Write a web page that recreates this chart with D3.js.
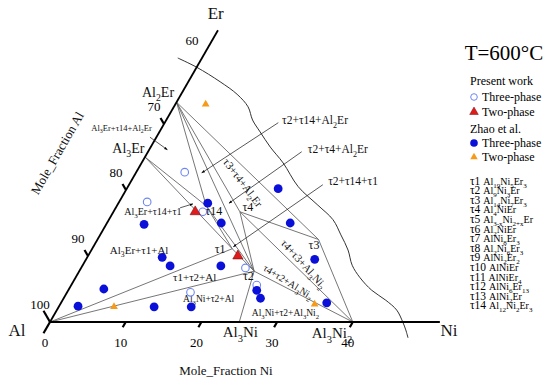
<!DOCTYPE html>
<html lang="en">
<head>
<meta charset="UTF-8">
<title>Al-Ni-Er isothermal section, 600 C</title>
<script src="https://d3js.org/d3.v7.min.js"></script>
<style>
  body { margin: 0; background: #fff; }
  svg { display: block; font-family: "Liberation Serif", "Times New Roman", serif; }
</style>
</head>
<body>
<svg width="550" height="386"></svg>
<script>
// all compositions in at.% as [Ni, Er]
const phaseNames = ["Al", "Al3Ni", "Al3Ni2", "Al3Er", "Al2Er", "t1", "t2", "t3", "t4", "t14"];
const phaseNi = [0, 25, 40, 0, 0, 18.5, 23.1, 29.2, 16.7, 11.8];
const phaseEr = [0, 0, 0, 25, 33.3, 11.1, 7.7, 12.5, 16.7, 17.6];

const tieLines = [
    ["Al", "t1"], ["Al", "t2"], ["Al3Er", "t1"], ["Al3Er", "t14"],
    ["Al2Er", "t14"], ["Al2Er", "t2"], ["Al2Er", "t4"], ["Al2Er", "t3"],
    ["t14", "t1"], ["t14", "t2"], ["t1", "t2"], ["Al3Ni", "t2"],
    ["t2", "Al3Ni2"], ["t4", "t2"], ["t4", "Al3Ni2"], ["t4", "t3"], ["t3", "Al3Ni2"]
];

// liquid / phase region boundary
const boundaryNi = [-3.2, 0, 4.2, 7.4, 9.8, 11.4, 13.3, 15.8, 18.7, 22.5, 26.5, 29.6, 31.8, 33.9, 35.6, 37.6, 40.1, 42.7, 44.9, 46.6, 47.6, 48.5];
const boundaryEr = [40, 38.6, 36.4, 34.5, 32.6, 30.6, 28.8, 26.5, 24.1, 20.5, 17.7, 15.5, 13.2, 10.9, 8.6, 6.7, 4.8, 3.3, 1.8, 0, -1.2, -2.4];

// present work
const presentThreeNi = [6.4, 3.7, 11.8, 21.7, 24.5, 16.3];
const presentThreeEr = [22.7, 18.2, 16.7, 8.2, 5.6, 4.5];
const presentTwoNi = [10.8, 19.8];
const presentTwoEr = [16.7, 10.0];
// Zhao et al.
const zhaoThreeNi = [11.8, 5.0, 15.1, 9.9, 11.6, 18.3, 4.6, 2.5, 12.6, 17.5, 24.9, 26.0, 35.1, 30.2, 24.2, 20.0];
const zhaoThreeEr = [18.0, 14.8, 15.0, 9.8, 8.5, 8.5, 5.0, 2.4, 2.3, 2.3, 4.8, 3.6, 2.9, 9.5, 15.0, 20.2];
const zhaoTwoNi = [4.0, 7.3, 33.6];
const zhaoTwoEr = [33.0, 2.3, 2.7];

// axes
const niTicks = [0, 10, 20, 30, 40];
const alTicks = [100, 90, 80, 70];
const alLabels = [100, 90, 80, 70, 60];

const tauNames = ["τ1", "τ2", "τ3", "τ4", "τ5", "τ6", "τ7", "τ8", "τ9", "τ10", "τ11", "τ12", "τ13", "τ14"];
const tauFormulas = ["Al{19}Ni{5}Er{3}", "Al{9}Ni{3}Er", "Al{14}Ni{7}Er{3}", "Al{4}NiEr", "Al{3-x}Ni{2+x}Er",
    "Al{2}NiEr", "AlNi{8}Er{3}", "Al{2}Ni{6}Er{3}", "AlNi{2}Er{2}", "AlNiEr", "AlNiEr{4}",
    "AlNi{6}Er{13}", "AlNi{2}Er", "Al{12}Ni{2}Er{3}"];

const svg = d3.select("svg");

// ternary -> screen
const nScale = d3.scaleLinear().domain([0, 40]).range([0, 302.8]);
const eXScale = d3.scaleLinear().domain([0, 40]).range([0, 152]);
const eYScale = d3.scaleLinear().domain([0, 40]).range([322, 58]);
const X0 = 50;
function proj(n, e) { return [X0 + nScale(n) + eXScale(e), eYScale(e)]; }

const phasePos = {};
phaseNames.forEach((p, i) => phasePos[p] = proj(phaseNi[i], phaseEr[i]));

// text with {subscripts}
function richText(sel, str, fs) {
    const parts = str.split(/(\{[^}]*\})/).filter(p => p.length);
    let sub = false;
    parts.forEach(p => {
        if (p[0] === "{") {
            sel.append("tspan").attr("font-size", fs * 0.7).attr("dy", fs * 0.3).text(p.slice(1, -1));
            sub = true;
        } else {
            const t = sel.append("tspan").text(p);
            if (sub) { t.attr("dy", -fs * 0.3); sub = false; }
        }
    });
    return sel;
}

function label(str, n, e, fs, anchor, rot) {
    const p = proj(n, e);
    const g = svg.append("g").attr("transform", `translate(${p[0]},${p[1]}) rotate(${rot || 0})`);
    const t = g.append("text").attr("y", fs * 0.35).attr("font-size", fs)
        .attr("text-anchor", anchor || "middle").attr("fill", "#111");
    richText(t, str, fs);
}

// arrow marker
svg.append("defs").append("marker")
    .attr("id", "arr").attr("viewBox", "0 0 10 10").attr("refX", 9).attr("refY", 5)
    .attr("markerWidth", 5).attr("markerHeight", 5).attr("orient", "auto")
    .append("path").attr("d", "M0,1.5L10,5L0,8.5Z").attr("fill", "#000");

// tie lines
svg.append("g").selectAll("line").data(tieLines).join("line")
    .attr("x1", d => phasePos[d[0]][0]).attr("y1", d => phasePos[d[0]][1])
    .attr("x2", d => phasePos[d[1]][0]).attr("y2", d => phasePos[d[1]][1])
    .attr("stroke", "#666").attr("stroke-width", 0.9);

// boundary curve
const lineGen = d3.line().x(d => proj(d[0], d[1])[0]).y(d => proj(d[0], d[1])[1]).curve(d3.curveCatmullRom);
svg.append("path").attr("d", lineGen(boundaryNi.map((n, i) => [n, boundaryEr[i]])))
    .attr("fill", "none").attr("stroke", "#333").attr("stroke-width", 1);

// axes
const corner = proj(0, 0);
const erEnd = proj(0, 44.2);
const niEnd = proj(51.5, 0);
svg.append("line").attr("x1", corner[0]).attr("y1", corner[1]).attr("x2", erEnd[0]).attr("y2", erEnd[1])
    .attr("stroke", "#000").attr("stroke-width", 1.8);
svg.append("line").attr("x1", corner[0]).attr("y1", corner[1]).attr("x2", niEnd[0]).attr("y2", niEnd[1])
    .attr("stroke", "#000").attr("stroke-width", 1.8);

// tick directions
const dNi = [-0.5, 0.866];   // outward along iso-Ni lines
const dAl = [-0.5, -0.866];  // outward along iso-Al lines
niTicks.forEach(v => {
    const b = proj(v, 0), len = v === 0 ? 13 : 6;
    svg.append("line").attr("x1", b[0]).attr("y1", b[1])
        .attr("x2", b[0] + dNi[0] * len).attr("y2", b[1] + dNi[1] * len)
        .attr("stroke", "#000").attr("stroke-width", 2.2);
    svg.append("text").attr("x", b[0] - 5).attr("y", b[1] + 25).attr("text-anchor", "middle")
        .attr("font-size", 13).text(v);
});
alTicks.forEach(v => {
    const b = proj(0, 100 - v), len = v === 100 ? 13 : 7;
    svg.append("line").attr("x1", b[0]).attr("y1", b[1])
        .attr("x2", b[0] + dAl[0] * len).attr("y2", b[1] + dAl[1] * len)
        .attr("stroke", "#000").attr("stroke-width", 2.2);
});
alLabels.forEach(v => {
    const b = proj(0, 100 - v);
    svg.append("text").attr("x", b[0] + dAl[0] * 20).attr("y", b[1] + dAl[1] * 20 + 4.5)
        .attr("text-anchor", "middle").attr("font-size", 13).text(v);
});

// axis titles and corners
label("Mole_Fraction Al", -11.9, 25.6, 13, "middle", -60);
label("Mole_Fraction Ni", 26.9, -7.3, 13, "middle");
label("Er", -1.6, 46.8, 17, "middle");
label("Al", -3.75, -1.2, 17, "middle");
label("Ni", 53.3, -1.2, 17, "middle");

// compound labels
label("Al{2}Er", -3.2, 34.8, 14);
label("Al{3}Er", -2.9, 26.4, 14);
label("Al{3}Ni", 25.9, -1.5, 15);
label("Al{3}Ni{2}", 38.1, -1.7, 15);

// node labels
label("τ14", 13.2, 16.8, 12);
label("τ4", 17.4, 17.4, 12);
label("τ3", 29.0, 11.7, 12);
label("τ2", 22.7, 7.0, 12);
label("τ1", 16.9, 11.1, 12);

// phase region labels
label("Al{3}Er+τ14+Al{2}Er", -5.3, 29.4, 8.5);
label("τ2+τ14+Al{2}Er", 15.3, 30.6, 11.5, "start");
label("τ2+τ4+Al{2}Er", 20.9, 26.2, 11.5, "start");
label("τ2+τ14+τ1", 26.0, 21.4, 11.5, "start");
label("Al{3}Er+τ14+τ1", 5.2, 16.7, 10);
label("Al{3}Er+τ1+Al", 6.3, 10.9, 11);
label("τ1+τ2+Al", 15.7, 6.8, 11);
label("Al{3}Ni+τ2+Al", 19.2, 3.5, 9.5);
label("Al{3}Ni+τ2+Al{3}Ni{2}", 30.4, 1.4, 9.5);
label("τ3+τ4+Al{2}Er", 14.9, 21.1, 11, "middle", 53);
label("τ4+τ3+Al{3}Ni{2}", 29.1, 8.8, 11, "middle", 48);
label("τ4+τ2+Al{3}Ni{2}", 28.4, 6.1, 10, "middle", 32);

// annotation arrows: [tailNi, tailEr, headNi, headEr]
const arrowTail = [[-0.85, 28.0], [15.0, 30.2], [20.3, 25.8], [25.6, 20.8], [8.5, 17.3]];
const arrowHead = [[2.4, 26.1], [8.7, 22.6], [14.6, 18.0], [18.5, 11.4], [9.9, 17.9]];
arrowTail.forEach((t, i) => {
    const a = proj(t[0], t[1]), b = proj(arrowHead[i][0], arrowHead[i][1]);
    svg.append("line").attr("x1", a[0]).attr("y1", a[1]).attr("x2", b[0]).attr("y2", b[1])
        .attr("stroke", "#111").attr("stroke-width", 0.7).attr("marker-end", "url(#arr)");
});

// data markers
const tri = d3.symbol().type(d3.symbolTriangle);
svg.append("g").selectAll("circle").data(presentThreeNi.map((n, i) => proj(n, presentThreeEr[i]))).join("circle")
    .attr("cx", d => d[0]).attr("cy", d => d[1]).attr("r", 3.8)
    .attr("fill", "#fff").attr("stroke", "#6f86f2").attr("stroke-width", 1.1);
svg.append("g").selectAll("circle").data(zhaoThreeNi.map((n, i) => proj(n, zhaoThreeEr[i]))).join("circle")
    .attr("cx", d => d[0]).attr("cy", d => d[1]).attr("r", 4.4).attr("fill", "#0a10d8");
svg.append("g").selectAll("path").data(zhaoTwoNi.map((n, i) => proj(n, zhaoTwoEr[i]))).join("path")
    .attr("d", tri.size(26)()).attr("transform", d => `translate(${d[0]},${d[1]})`)
    .attr("fill", "#f59a1b");
svg.append("g").selectAll("path").data(presentTwoNi.map((n, i) => proj(n, presentTwoEr[i]))).join("path")
    .attr("d", tri.size(45)()).attr("transform", d => `translate(${d[0]},${d[1]})`)
    .attr("fill", "#e01b1b").attr("stroke", "#7a0b0b").attr("stroke-width", 0.6);

// legend
const lg = svg.append("g");
lg.append("text").attr("x", 504).attr("y", 60).attr("text-anchor", "middle").attr("font-size", 21).text("T=600°C");
lg.append("text").attr("x", 470).attr("y", 85).attr("font-size", 12).text("Present work");
lg.append("circle").attr("cx", 474).attr("cy", 97).attr("r", 3.3).attr("fill", "#fff")
    .attr("stroke", "#6f86f2").attr("stroke-width", 1);
lg.append("text").attr("x", 482).attr("y", 101).attr("font-size", 12).text("Three-phase");
lg.append("path").attr("d", tri.size(32)()).attr("transform", "translate(474,112)")
    .attr("fill", "#e01b1b").attr("stroke", "#7a0b0b").attr("stroke-width", 0.5);
lg.append("text").attr("x", 482).attr("y", 116).attr("font-size", 12).text("Two-phase");
lg.append("text").attr("x", 470).attr("y", 133).attr("font-size", 12).text("Zhao et al.");
lg.append("circle").attr("cx", 474).attr("cy", 143).attr("r", 3.8).attr("fill", "#0a10d8");
lg.append("text").attr("x", 482).attr("y", 147).attr("font-size", 12).text("Three-phase");
lg.append("path").attr("d", tri.size(24)()).attr("transform", "translate(474,157)").attr("fill", "#f59a1b");
lg.append("text").attr("x", 482).attr("y", 161).attr("font-size", 12).text("Two-phase");

tauNames.forEach((nm, i) => {
    const t = lg.append("text").attr("x", 470).attr("y", 184.5 + i * 9.6).attr("font-size", 10);
    t.append("tspan").attr("font-size", 11.5).text(nm + " ");
    richText(t, tauFormulas[i], 10);
});
</script>
</body>
</html>
